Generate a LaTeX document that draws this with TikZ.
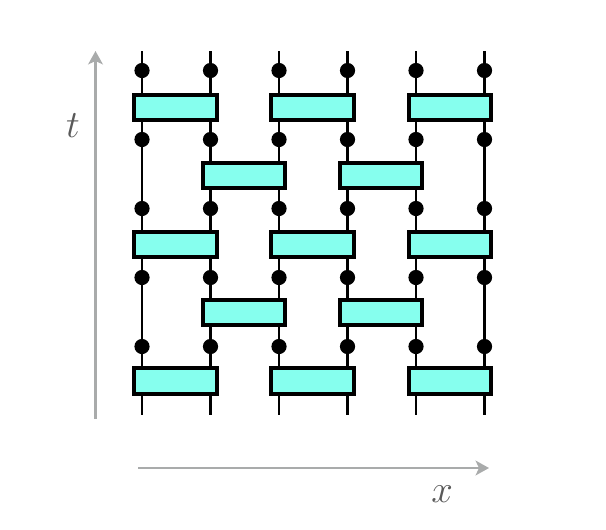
\documentclass[tikz,border=0pt]{standalone}
\usepackage{fix-cm}
\usepackage{xcolor}
\usetikzlibrary{arrows.meta,positioning}
\definecolor{gatecyan}{HTML}{86FFEE}
\definecolor{axisgray}{HTML}{A9ABAB}
\tikzset{
  gatebox/.style={
    draw=black,
    fill=gatecyan,
    line width=2.8pt,
    minimum width=62pt,
    minimum height=19pt,
    inner sep=0pt
  },
  sitedot/.style={circle,fill=black,minimum size=11.4pt,inner sep=0pt},
  thinwire/.style={line width=1.5pt,draw=black},
  thickwire/.style={line width=2.2pt,draw=black},
  axisflow/.style={-{Stealth[length=10pt,width=11pt,inset=2.5pt]},line width=2.2pt,draw=axisgray},
  axislabel/.style={text=black!65,font=\fontsize{29}{29}\selectfont,inner sep=0pt}
}
\begin{document}
\begin{tikzpicture}[x=0.75pt,y=-0.75pt]
  \useasboundingbox (0,0) rectangle (606,529);
  % wire ends
  \foreach \wx [count=\i] in {142,210.5,279,347.5,416,484.5}{
    \coordinate (top\i) at (\wx,51);
    \coordinate (bot\i) at (\wx,415);
  }
  % wires
  \foreach \i in {1,3,5} \draw[thinwire] (top\i) -- (bot\i);
  \foreach \i in {2,4,6} \draw[thickwire] (top\i) -- (bot\i);
  % dots
  \foreach \wx [count=\i] in {142,210.5,279,347.5,416,484.5}{
    \foreach \wy [count=\j] in {70.5,139.5,208.5,277.5,346.5}{
      \node[sitedot] (dot\i\j) at (\wx,\wy) {};
    }
  }
  % odd layers
  \foreach \wy [count=\j] in {107.5,244.5,381}{
    \node[gatebox] (gate1\j) at (175.5,\wy) {};
    \node[gatebox] (gate2\j) at (312.5,\wy) {};
    \node[gatebox] (gate3\j) at (450,\wy) {};
  }
  % even layers
  \foreach \wy [count=\j] in {175.5,312.5}{
    \node[gatebox] (shift1\j) at (244,\wy) {};
    \node[gatebox] (shift2\j) at (381,\wy) {};
  }
  % axes
  \coordinate (tfrom) at (95.5,419);
  \coordinate (tto) at (95.5,51);
  \coordinate (xfrom) at (138,468);
  \coordinate (xto) at (489,468);
  \draw[axisflow] (tfrom) -- (tto);
  \draw[axisflow] (xfrom) -- (xto);
  \node[axislabel] (tlabel) at (73,126) {$t$};
  \node[axislabel] (xlabel) at (442,494) {$x$};
\end{tikzpicture}
\end{document}
